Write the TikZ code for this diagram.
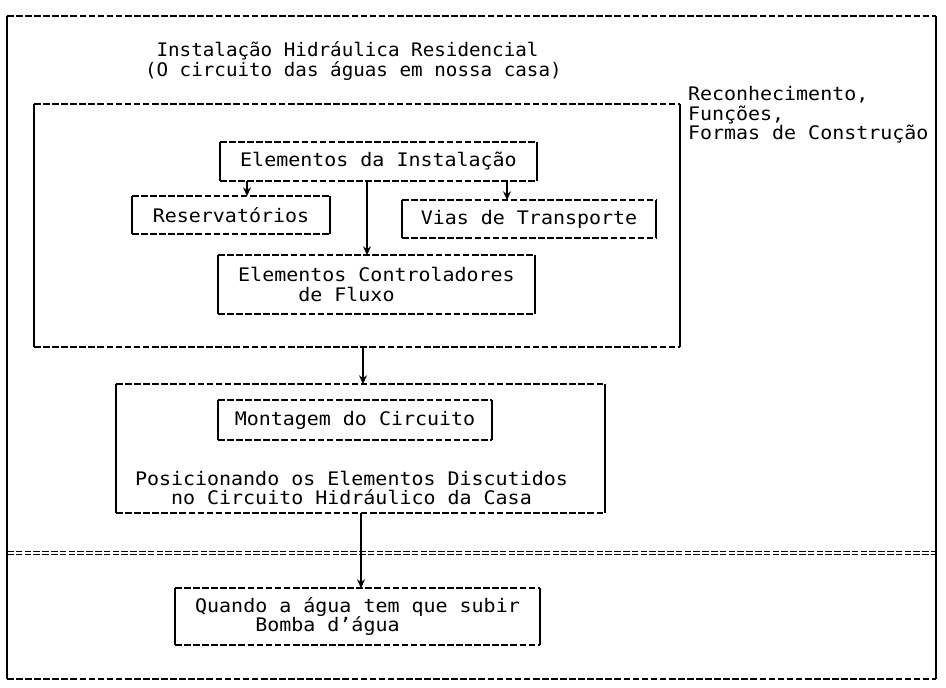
\documentclass[tikz,border=0pt]{standalone}
\usepackage{fontspec}
\usetikzlibrary{arrows.meta}
\newfontfamily\dmono[FakeStretch=1.07]{DejaVu Sans Mono}
\newfontfamily\dmonot[FakeStretch=1.03]{DejaVu Sans Mono}
\newcommand\mybrbox[1]{%
  \draw[hline] (#1.north west) -- (#1.north east);
  \draw[hline] (#1.south west) -- (#1.south east);
  \draw[vline] (#1.north west) -- (#1.south west);
  \draw[vline] (#1.north east) -- (#1.south east);
}
\tikzset{
  hline/.style={line width=1pt, dash pattern=on 5pt off 1.8pt},
  vline/.style={line width=2pt},
  boxnode/.style={inner sep=0pt, outer sep=0pt, align=left,
    font=\dmono\fontsize{14}{14.5}\selectfont},
  txt/.style={inner sep=0pt, outer sep=0pt, align=left,
    font=\dmono\fontsize{14}{14.5}\selectfont},
  ttl/.style={inner sep=0pt, outer sep=0pt, align=left,
    font=\dmonot\fontsize{14}{14.5}\selectfont},
  arr/.style={line width=1.4pt, -{Stealth[length=6.5pt,width=6pt]}},
  dsep/.style={line width=0.9pt, dash pattern=on 5pt off 1.6pt}
}
\begin{document}
\begin{tikzpicture}[x=0.75pt,y=-0.75pt]
\useasboundingbox[fill=white] (0,0) rectangle (946,687);

% boxes
\node[boxnode, minimum width=696.75pt, minimum height=497.25pt] (outer) at (471.5,347.5) {};
\node[boxnode, minimum width=484.5pt, minimum height=182.25pt] (inner) at (357,225.5) {};
\node[boxnode, minimum width=237.75pt, minimum height=29.25pt] (elem) at (378.5,161.5) {Elementos da Instalação};
\node[boxnode, minimum width=148.5pt, minimum height=28.5pt] (reserv) at (231,215) {Reservatórios};
\node[boxnode, minimum width=190.5pt, minimum height=28.5pt] (vias) at (529,219) {Vias de Transporte};
\node[boxnode, minimum width=237.75pt, minimum height=44.25pt] (ctrl) at (376.5,284.5) {Elementos Controladores\\\phantom{xxxxx}de Fluxo};
\node[boxnode, minimum width=366.75pt, minimum height=96.75pt] (montO) at (360.5,448.5) {};
\node[boxnode, minimum width=205.5pt, minimum height=30pt] (mont) at (355,420) {Montagem do Circuito};
\node[boxnode, minimum width=273.75pt, minimum height=42.75pt] (quando) at (357.5,616.5) {Quando a água tem que subir\\\phantom{xxxxx}Bomba d’água};

\mybrbox{outer}
\mybrbox{inner}
\mybrbox{elem}
\mybrbox{reserv}
\mybrbox{vias}
\mybrbox{ctrl}
\mybrbox{montO}
\mybrbox{mont}
\mybrbox{quando}

% free texts
\node[ttl, anchor=west] (title) at (145,61) {\phantom{x}Instalação Hidráulica Residencial\\(O circuito das águas em nossa casa)};
\node[txt, anchor=west] (recon) at (688,115) {Reconhecimento,\\Funções,\\Formas de Construção};
\node[txt, anchor=west] (posic) at (135,488) {Posicionando os Elementos Discutidos\\\phantom{xxx}no Circuito Hidráulico da Casa};

% double separator
\coordinate (sy) at (0,553);
\draw[dsep] ([yshift=1.4pt]outer.west |- sy) -- ([yshift=1.4pt]outer.east |- sy);
\draw[dsep] ([yshift=-1.4pt]outer.west |- sy) -- ([yshift=-1.4pt]outer.east |- sy);

% connectors
\coordinate (xa) at (247,0);
\coordinate (xb) at (367,0);
\coordinate (xc) at (507,0);
\coordinate (xd) at (363,0);
\coordinate (xe) at (361,0);
\draw[arr] (elem.south -| xa) -- (reserv.north -| xa);
\draw[arr] (elem.south -| xb) -- (ctrl.north -| xb);
\draw[arr] (elem.south -| xc) -- (vias.north -| xc);
\draw[arr] (inner.south -| xd) -- (montO.north -| xd);
\draw[arr] (montO.south -| xe) -- (quando.north -| xe);
\end{tikzpicture}
\end{document}
